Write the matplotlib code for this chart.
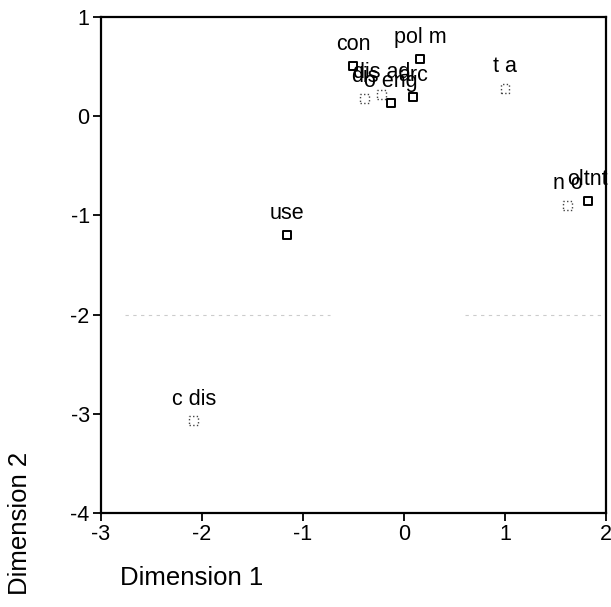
import matplotlib
matplotlib.use('Agg')
import matplotlib.pyplot as plt

# stimulus coordinates
labels = ['con', 'pol m', 'dis', 'dis ad', 'o eng', 'arc', 't a', 'n o', 'oltnt', 'use', 'c dis']
dim1 = [-0.50, 0.16, -0.39, -0.22, -0.13, 0.09, 1.00, 1.62, 1.82, -1.16, -2.08]
dim2 = [0.51, 0.58, 0.18, 0.22, 0.13, 0.19, 0.28, -0.90, -0.86, -1.20, -3.07]

xticks = [-3, -2, -1, 0, 1, 2]
yticks = [-4, -3, -2, -1, 0, 1]

# marker look: scanned squares, some crisp, some faint/dotted
crisp = [True, True, False, False, True, True, False, False, True, True, False]

plt.rcParams['font.family'] = ['Liberation Sans', 'DejaVu Sans']
plt.rcParams['axes.unicode_minus'] = False

fig = plt.figure(figsize=(6.11, 6.07), dpi=100)
ax = fig.add_axes([0.165, 0.155, 0.827, 0.817])

for x, y, lab, c in zip(dim1, dim2, labels, crisp):
    if c:
        ax.scatter([x], [y], marker='s', s=40, facecolor='white',
                   edgecolor='black', linewidth=1.4, zorder=3)
    else:
        ax.scatter([x], [y], marker='s', s=40, facecolor='white',
                   edgecolor='#444444', linewidth=1.0, linestyle=':', zorder=3)
    ax.annotate(lab, (x, y), xytext=(0, 15.5), textcoords='offset points',
                ha='center', va='center', fontsize=15.5, color='black',
                zorder=4, annotation_clip=False)

# faint scanner streak around -2
ax.plot([-2.76, -0.73], [-2.0, -2.0], color='#cccccc', lw=0.8, ls=(0, (3, 4)), zorder=1)
ax.plot([0.6, 1.95], [-2.0, -2.0], color='#cccccc', lw=0.8, ls=(0, (3, 4)), zorder=1)

ax.set_xlim(-3, 2)
ax.set_ylim(-4, 1)
ax.set_xticks(xticks)
ax.set_yticks(yticks)
ax.tick_params(direction='out', length=6, width=1.3, labelsize=15.5, pad=2)
for s in ax.spines.values():
    s.set_linewidth(1.6)

fig.text(20 / 611, 1 - 523 / 607, 'Dimension 2', rotation=90, ha='center', va='center', fontsize=18.5)
fig.text(192 / 611, 1 - 578 / 607, 'Dimension 1', ha='center', va='center', fontsize=18.5)

fig.savefig('out.png', dpi=100)
